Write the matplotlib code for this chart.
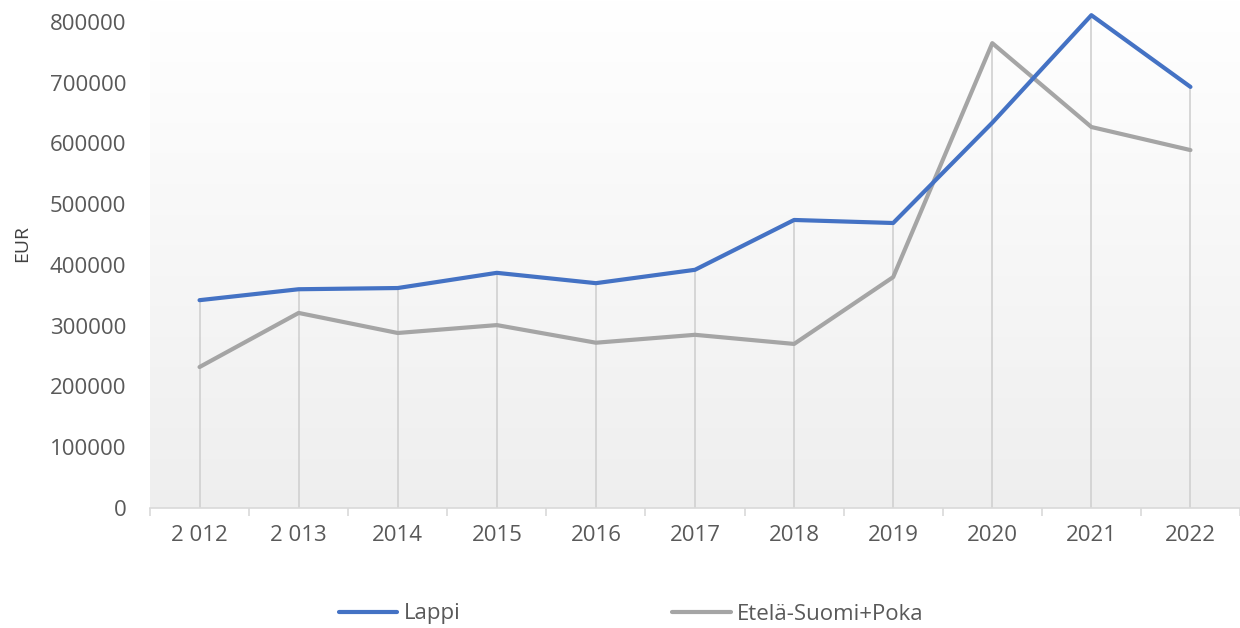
import numpy as np
import matplotlib.pyplot as plt

years = ["2 012", "2 013", "2014", "2015", "2016", "2017", "2018", "2019", "2020", "2021", "2022"]
lappi = [342000, 360000, 362000, 387000, 370000, 392000, 474000, 469000, 634000, 811000, 693000]
etela = [232000, 321000, 288000, 301000, 272000, 285000, 270000, 380000, 765000, 627000, 589000]
yticks = [0, 100000, 200000, 300000, 400000, 500000, 600000, 700000, 800000]

plt.rcParams['font.family'] = ['Open Sans', 'DejaVu Sans']

fig = plt.figure(figsize=(12.4, 6.28), dpi=100)
ax = fig.add_axes([150 / 1240, 1 - 508 / 628, 1090 / 1240, 508 / 628])

x = np.arange(len(years))
ymax = 836000
ax.set_xlim(-0.5, len(years) - 0.5)
ax.set_ylim(0, ymax)

# gradient background, white at top to light gray at bottom
shade = np.linspace(1.0, 0.935, 256).reshape(-1, 1)
rgb = np.dstack([shade, shade, shade])
ax.imshow(rgb, aspect='auto', origin='upper',
          extent=(-0.5, len(years) - 0.5, 0, ymax), zorder=0)

# drop lines
tops = np.maximum(lappi, etela)
ax.vlines(x, 0, tops, color='#d0d0d0', linewidth=1.2, zorder=1)

ax.plot(x, lappi, color='#4472C4', linewidth=3, label='Lappi', zorder=3, solid_capstyle='round')
ax.plot(x, etela, color='#A5A5A5', linewidth=3, label='Etelä-Suomi+Poka', zorder=2, solid_capstyle='round')

for s in ['top', 'right', 'left']:
    ax.spines[s].set_visible(False)
ax.spines['bottom'].set_color('#d9d9d9')
ax.spines['bottom'].set_linewidth(1.2)

ax.set_xticks(x)
ax.set_xticklabels(years)
ax.set_xticks(np.arange(-0.5, len(years)), minor=True)
ax.tick_params(axis='x', which='major', length=0, pad=12, labelsize=16, labelcolor='#595959')
ax.tick_params(axis='x', which='minor', length=6, color='#d9d9d9', width=1.2)
ax.set_yticks(yticks)
ax.set_yticklabels([str(v) for v in yticks])
ax.tick_params(axis='y', length=0, pad=17, labelsize=16, labelcolor='#595959')

fig.text(22 / 1240, 1 - 243 / 628, 'EUR', rotation=90, fontsize=14, color='#404040',
         ha='center', va='center')

fig.legend(loc='center left', bbox_to_anchor=(323 / 1240, 1 - 614 / 628), ncol=2, frameon=False,
           fontsize=16, handlelength=2.65, handletextpad=0.27, columnspacing=9.55,
           labelcolor='#595959', borderpad=0.2)

fig.savefig('out.png', dpi=100)
